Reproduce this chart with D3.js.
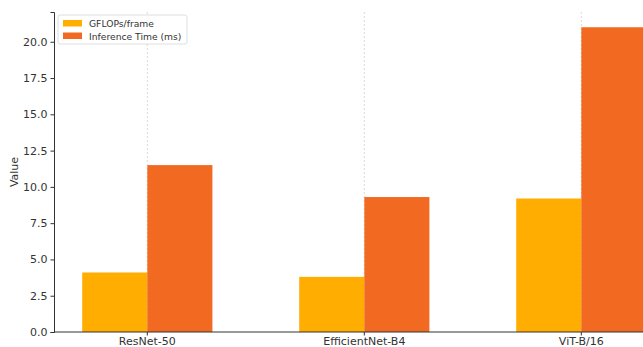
<!DOCTYPE html>
<html>
<head>
<meta charset="utf-8">
<script src="https://cdn.jsdelivr.net/npm/d3@7/dist/d3.min.js"></script>
<style>
  html, body { margin: 0; padding: 0; background: #fff; }
  svg { display: block; font-family: "DejaVu Sans", sans-serif; }
</style>
</head>
<body>
<svg id="chart" width="643" height="347"></svg>
<script>
// Model comparison: compute cost vs. latency
const categories = ["ResNet-50", "EfficientNet-B4", "ViT-B/16"];
const seriesNames = ["GFLOPs/frame", "Inference Time (ms)"];
const gflops = [4.1, 3.8, 9.2];
const inferenceMs = [11.5, 9.3, 21.0];
const yTicks = [0, 2.5, 5, 7.5, 10, 12.5, 15, 17.5, 20];
const colors = ["#FFAD00", "#F26A21"];

const series = [gflops, inferenceMs];

const svg = d3.select("#chart");
const margin = { left: 54, top: 12, bottom: 15 };
const H = 347;
const plotBottom = H - margin.bottom;

// Continuous x in category units, so the plot may run past the right edge
const x = d3.scaleLinear().domain([-0.43, 2.43]).range([margin.left, margin.left + 2.86 * 217]);
const y = d3.scaleLinear().domain([0, 22.05]).range([plotBottom, margin.top]);
const barW = 0.3;

// Vertical grid lines at each category
svg.append("g").selectAll("line").data(categories).join("line")
  .attr("x1", (d, i) => x(i)).attr("x2", (d, i) => x(i))
  .attr("y1", margin.top).attr("y2", plotBottom)
  .attr("stroke", "#d0d0d0").attr("stroke-width", 0.8)
  .attr("stroke-dasharray", "2,2");

// Bars
series.forEach((vals, s) => {
  svg.append("g").selectAll("rect").data(vals).join("rect")
    .attr("x", (d, i) => x(i + (s === 0 ? -barW : 0)))
    .attr("width", x(barW) - x(0))
    .attr("y", d => y(d))
    .attr("height", d => y(0) - y(d))
    .attr("fill", colors[s]);
});

// Y axis
const yAxis = svg.append("g")
  .attr("transform", `translate(${margin.left},0)`)
  .call(d3.axisLeft(y).tickValues(yTicks).tickFormat(d3.format(".1f")).tickSizeOuter(0).tickSize(3.5).tickPadding(3));
yAxis.select(".domain").attr("stroke", "#333").attr("stroke-width", 1);
yAxis.selectAll(".tick line").attr("stroke", "#333");
yAxis.selectAll("text").attr("font-size", 11).attr("fill", "#333").attr("font-family", "DejaVu Sans");

// X axis
svg.append("line")
  .attr("x1", margin.left).attr("x2", 643)
  .attr("y1", plotBottom).attr("y2", plotBottom)
  .attr("stroke", "#333").attr("stroke-width", 1);
const xAxis = svg.append("g");
categories.forEach((c, i) => {
  xAxis.append("line")
    .attr("x1", x(i)).attr("x2", x(i))
    .attr("y1", plotBottom).attr("y2", plotBottom + 3.5)
    .attr("stroke", "#333");
  xAxis.append("text")
    .attr("x", x(i)).attr("y", plotBottom + 13)
    .attr("text-anchor", "middle").attr("font-size", 11).attr("fill", "#333")
    .text(c);
});

// Y axis title
svg.append("text")
  .attr("transform", `translate(18,${(margin.top + plotBottom) / 2}) rotate(-90)`)
  .attr("text-anchor", "middle").attr("font-size", 11).attr("fill", "#333")
  .text("Value");

// Legend
const lg = svg.append("g").attr("transform", "translate(58,15)");
lg.append("rect").attr("width", 129).attr("height", 29).attr("rx", 2)
  .attr("fill", "#fff").attr("fill-opacity", 0.85).attr("stroke", "#d6d6d6").attr("stroke-width", 0.8);
seriesNames.forEach((n, i) => {
  lg.append("rect").attr("x", 5).attr("y", 5 + i * 12.5).attr("width", 19).attr("height", 6.5).attr("fill", colors[i]);
  lg.append("text").attr("x", 31).attr("y", 12 + i * 12.5).attr("font-size", 9.2).attr("fill", "#333").text(n);
});
</script>
</body>
</html>
